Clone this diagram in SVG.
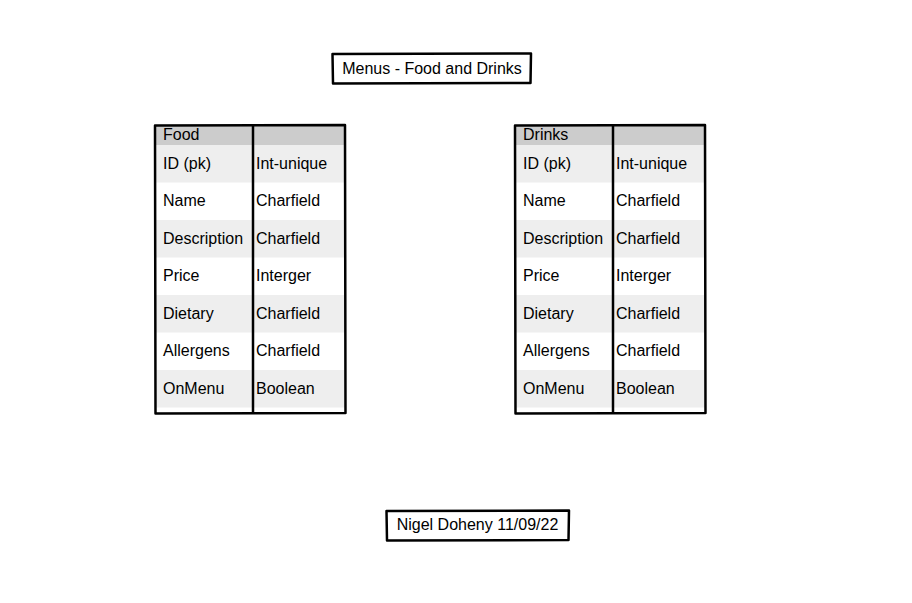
<svg xmlns="http://www.w3.org/2000/svg" width="912" height="603" viewBox="0 0 912 603">
<style>
text{font-family:"Liberation Sans",Arial,sans-serif;font-size:16px;fill:#000}
.hdr{fill:#cccccc}
.alt{fill:#eeeeee}
.wht{fill:#ffffff}
.frame{fill:none;stroke:#000;stroke-width:2.5;stroke-linejoin:round}
.box{fill:#fff;stroke:#000;stroke-width:2.5;stroke-linejoin:round}
</style>
<rect width="912" height="603" fill="#fff"/>
<g id="title">
<path class="box" d="M332.5 54 L531 53.5 L530.5 83 L333 83.5 Z"/>
<text x="432" y="74" text-anchor="middle">Menus - Food and Drinks</text>
</g>
<g id="food">
<rect class="wht" x="155" y="125" width="190" height="288"/>
<rect class="hdr" x="155" y="125" width="190" height="20"/>
<rect class="alt" x="155" y="145" width="190" height="37.5"/>
<rect class="alt" x="155" y="220" width="190" height="37.5"/>
<rect class="alt" x="155" y="295" width="190" height="37.5"/>
<rect class="alt" x="155" y="370" width="190" height="37.5"/>
<path class="frame" d="M155 125.5 L345 125 L345.5 413 L155.5 413.5 Z"/>
<path class="frame" d="M253 125.5 L253 413"/>
<text x="163" y="140">Food</text>
<text x="163" y="169">ID (pk)</text><text x="256" y="169">Int-unique</text>
<text x="163" y="206">Name</text><text x="256" y="206">Charfield</text>
<text x="163" y="244">Description</text><text x="256" y="244">Charfield</text>
<text x="163" y="281">Price</text><text x="256" y="281">Interger</text>
<text x="163" y="319">Dietary</text><text x="256" y="319">Charfield</text>
<text x="163" y="356">Allergens</text><text x="256" y="356">Charfield</text>
<text x="163" y="394">OnMenu</text><text x="256" y="394">Boolean</text>
</g>
<g id="drinks">
<rect class="wht" x="515" y="125" width="190" height="288"/>
<rect class="hdr" x="515" y="125" width="190" height="20"/>
<rect class="alt" x="515" y="145" width="190" height="37.5"/>
<rect class="alt" x="515" y="220" width="190" height="37.5"/>
<rect class="alt" x="515" y="295" width="190" height="37.5"/>
<rect class="alt" x="515" y="370" width="190" height="37.5"/>
<path class="frame" d="M515 125.5 L705 125 L705.5 413 L515.5 413.5 Z"/>
<path class="frame" d="M613 125.5 L613 413"/>
<text x="523" y="140">Drinks</text>
<text x="523" y="169">ID (pk)</text><text x="616" y="169">Int-unique</text>
<text x="523" y="206">Name</text><text x="616" y="206">Charfield</text>
<text x="523" y="244">Description</text><text x="616" y="244">Charfield</text>
<text x="523" y="281">Price</text><text x="616" y="281">Interger</text>
<text x="523" y="319">Dietary</text><text x="616" y="319">Charfield</text>
<text x="523" y="356">Allergens</text><text x="616" y="356">Charfield</text>
<text x="523" y="394">OnMenu</text><text x="616" y="394">Boolean</text>
</g>
<g id="author">
<path class="box" d="M386.5 511 L569 510.5 L568.5 540 L387 540.5 Z"/>
<text x="477.5" y="530" text-anchor="middle">Nigel Doheny 11/09/22</text>
</g>
<g id="connectors"/>
</svg>
